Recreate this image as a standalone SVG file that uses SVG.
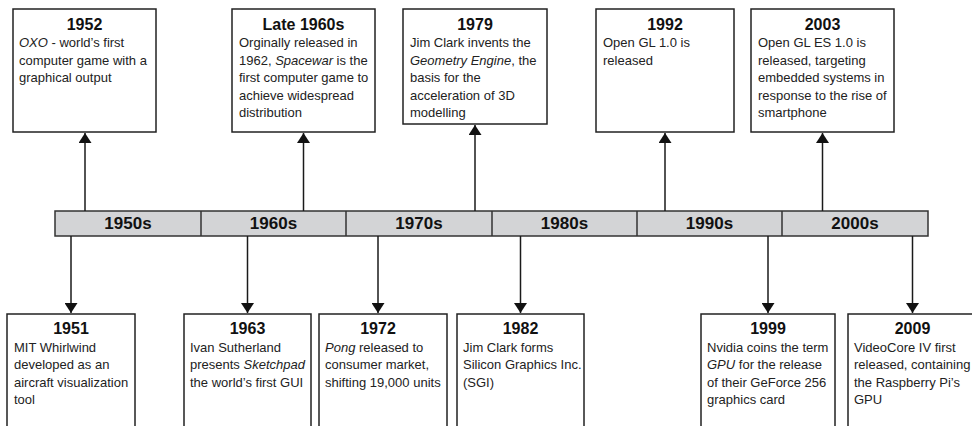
<svg xmlns="http://www.w3.org/2000/svg" width="972" height="426" viewBox="0 0 972 426">
  <style>
    .box { fill: #ffffff; stroke: #222222; stroke-width: 1.5; }
    .bar { fill: #d3d4d6; stroke: #333333; stroke-width: 1.5; }
    .div { stroke: #333333; stroke-width: 1.5; }
    .conn { stroke: #1a1a1a; stroke-width: 1.5; fill: none; marker-end: url(#arrow); }
    .title { font-family: "Liberation Sans", Arial, sans-serif; font-size: 16px; font-weight: bold; fill: #111111; text-anchor: middle; }
    .decade { font-family: "Liberation Sans", Arial, sans-serif; font-size: 17px; font-weight: bold; fill: #111111; text-anchor: middle; }
    .body { font-family: "Liberation Sans", Arial, sans-serif; font-size: 13px; fill: #222222; }
    .it { font-style: italic; }
  </style>
  <defs>
    <marker id="arrow" markerUnits="userSpaceOnUse" markerWidth="11" markerHeight="13" refX="10" refY="6.5" orient="auto" viewBox="0 0 11 13">
      <path d="M0,0 L10,6.5 L0,13 z" fill="#111111"/>
    </marker>
  </defs>

  <!-- decade bar -->
  <g id="timeline">
    <rect class="bar" x="55" y="211" width="873" height="25"/>
    <line class="div" x1="201" y1="211" x2="201" y2="236"/>
    <line class="div" x1="346" y1="211" x2="346" y2="236"/>
    <line class="div" x1="492" y1="211" x2="492" y2="236"/>
    <line class="div" x1="637" y1="211" x2="637" y2="236"/>
    <line class="div" x1="782" y1="211" x2="782" y2="236"/>
    <text class="decade" x="128" y="229">1950s</text>
    <text class="decade" x="273.5" y="229">1960s</text>
    <text class="decade" x="419" y="229">1970s</text>
    <text class="decade" x="564.5" y="229">1980s</text>
    <text class="decade" x="709.5" y="229">1990s</text>
    <text class="decade" x="855" y="229">2000s</text>
  </g>

  <!-- connectors from the bar to each event -->
  <g id="connectors">
    <line class="conn" x1="85" y1="211" x2="85" y2="133"/>
    <line class="conn" x1="303.5" y1="211" x2="303.5" y2="133"/>
    <line class="conn" x1="475" y1="211" x2="475" y2="125"/>
    <line class="conn" x1="665" y1="211" x2="665" y2="133"/>
    <line class="conn" x1="822.5" y1="211" x2="822.5" y2="133"/>
    <line class="conn" x1="71" y1="236" x2="71" y2="313"/>
    <line class="conn" x1="247.5" y1="236" x2="247.5" y2="313"/>
    <line class="conn" x1="378" y1="236" x2="378" y2="313"/>
    <line class="conn" x1="520.5" y1="236" x2="520.5" y2="313"/>
    <line class="conn" x1="768" y1="236" x2="768" y2="313"/>
    <line class="conn" x1="912.5" y1="236" x2="912.5" y2="313"/>
  </g>

  <!-- events above the bar -->
  <g id="ev1952">
    <rect class="box" x="13" y="9" width="143" height="123"/>
    <text class="title" x="84.5" y="30">1952</text>
    <text class="body" x="19" y="47"><tspan class="it">OXO</tspan> - world’s first</text>
    <text class="body" x="19" y="64.5">computer game with a</text>
    <text class="body" x="19" y="82">graphical output</text>
  </g>
  <g id="ev1960s">
    <rect class="box" x="232" y="9" width="143" height="123"/>
    <text class="title" x="303.5" y="30">Late 1960s</text>
    <text class="body" x="239" y="47">Orginally released in</text>
    <text class="body" x="239" y="64.5">1962, <tspan class="it">Spacewar</tspan> is the</text>
    <text class="body" x="239" y="82">first computer game to</text>
    <text class="body" x="239" y="99.5">achieve widespread</text>
    <text class="body" x="239" y="117">distribution</text>
  </g>
  <g id="ev1979">
    <rect class="box" x="403" y="9" width="144" height="115"/>
    <text class="title" x="475" y="30">1979</text>
    <text class="body" x="410" y="47">Jim Clark invents the</text>
    <text class="body" x="410" y="64.5"><tspan class="it">Geometry Engine</tspan>, the</text>
    <text class="body" x="410" y="82">basis for the</text>
    <text class="body" x="410" y="99.5">acceleration of 3D</text>
    <text class="body" x="410" y="117">modelling</text>
  </g>
  <g id="ev1992">
    <rect class="box" x="596" y="9" width="138" height="123"/>
    <text class="title" x="665" y="30">1992</text>
    <text class="body" x="603" y="47">Open GL 1.0 is</text>
    <text class="body" x="603" y="64.5">released</text>
  </g>
  <g id="ev2003">
    <rect class="box" x="751" y="9" width="143" height="123"/>
    <text class="title" x="822.5" y="30">2003</text>
    <text class="body" x="758" y="47">Open GL ES 1.0 is</text>
    <text class="body" x="758" y="64.5">released, targeting</text>
    <text class="body" x="758" y="82">embedded systems in</text>
    <text class="body" x="758" y="99.5">response to the rise of</text>
    <text class="body" x="758" y="117">smartphone</text>
  </g>

  <!-- events below the bar -->
  <g id="ev1951">
    <rect class="box" x="7" y="314" width="128" height="120"/>
    <text class="title" x="71" y="334">1951</text>
    <text class="body" x="14" y="352">MIT Whirlwind</text>
    <text class="body" x="14" y="369">developed as an</text>
    <text class="body" x="14" y="386.5">aircraft visualization</text>
    <text class="body" x="14" y="404">tool</text>
  </g>
  <g id="ev1963">
    <rect class="box" x="184" y="314" width="127" height="120"/>
    <text class="title" x="247.5" y="334">1963</text>
    <text class="body" x="190" y="352">Ivan Sutherland</text>
    <text class="body" x="190" y="369">presents <tspan class="it">Sketchpad</tspan></text>
    <text class="body" x="190" y="386.5">the world’s first GUI</text>
  </g>
  <g id="ev1972">
    <rect class="box" x="319" y="314" width="128" height="120"/>
    <text class="title" x="378" y="334">1972</text>
    <text class="body" x="325" y="352"><tspan class="it">Pong</tspan> released to</text>
    <text class="body" x="325" y="369">consumer market,</text>
    <text class="body" x="325" y="386.5">shifting 19,000 units</text>
  </g>
  <g id="ev1982">
    <rect class="box" x="457" y="314" width="127" height="120"/>
    <text class="title" x="520.5" y="334">1982</text>
    <text class="body" x="463" y="352">Jim Clark forms</text>
    <text class="body" x="463" y="369">Silicon Graphics Inc.</text>
    <text class="body" x="463" y="386.5">(SGI)</text>
  </g>
  <g id="ev1999">
    <rect class="box" x="701" y="314" width="134" height="120"/>
    <text class="title" x="768" y="334">1999</text>
    <text class="body" x="707" y="352">Nvidia coins the term</text>
    <text class="body" x="707" y="369"><tspan class="it">GPU</tspan> for the release</text>
    <text class="body" x="707" y="386.5">of their GeForce 256</text>
    <text class="body" x="707" y="404">graphics card</text>
  </g>
  <g id="ev2009">
    <rect class="box" x="848" y="314" width="130" height="120"/>
    <text class="title" x="912.5" y="334">2009</text>
    <text class="body" x="854" y="352">VideoCore IV first</text>
    <text class="body" x="854" y="369">released, containing</text>
    <text class="body" x="854" y="386.5">the Raspberry Pi’s</text>
    <text class="body" x="854" y="404">GPU</text>
  </g>
</svg>
